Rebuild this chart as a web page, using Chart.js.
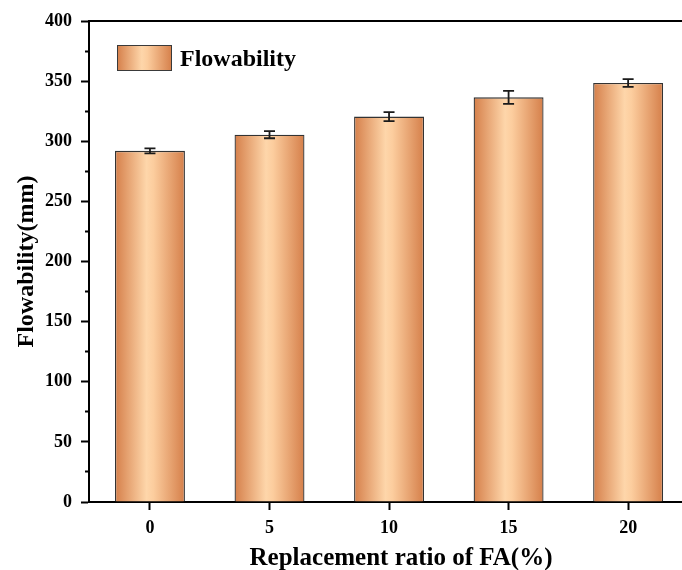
<!DOCTYPE html>
<html>
<head>
<meta charset="utf-8">
<script src="https://cdn.jsdelivr.net/npm/chart.js@4/dist/chart.umd.min.js"></script>
<style>
  html, body { margin: 0; padding: 0; background: #fff; overflow: hidden; }
  #wrap { position: absolute; left: 0; top: 0; width: 682px; height: 570px; overflow: hidden; }
  canvas { display: block; }
</style>
</head>
<body>
<div id="wrap"><canvas id="c" width="730" height="570"></canvas></div>
<script>
// Replacement ratio of fly ash (%) and measured flowability (mm)
const ratios = [0, 5, 10, 15, 20];
const flowability = [292, 305.5, 320.5, 336.5, 348.5];
const flowabilityErr = [2, 3, 3.7, 5.4, 3.2];
const yTicks = [0, 50, 100, 150, 200, 250, 300, 350, 400];
const seriesLabel = 'Flowability';

const FONT = '"Liberation Serif", "Times New Roman", serif';
const BAR_PCT = 0.585;

// horizontal copper gradient across a span of pixels
function copperGradient(ctx, x0, x1) {
  const g = ctx.createLinearGradient(x0, 0, x1, 0);
  g.addColorStop(0, '#D57F4A');
  g.addColorStop(0.45, '#FED6AA');
  g.addColorStop(0.55, '#FCCD9E');
  g.addColorStop(1, '#D57F4A');
  return g;
}

function barFill(c) {
  const chart = c.chart;
  const xs = chart.scales.x;
  if (c.type !== 'data' || !xs || !c.raw) return '#EFAE7E';
  const cx = xs.getPixelForValue(c.raw.x);
  const half = (xs.getPixelForValue(5) - xs.getPixelForValue(0)) * BAR_PCT / 2;
  if (!isFinite(cx) || !isFinite(half) || half <= 0) return '#EFAE7E';
  return copperGradient(chart.ctx, cx - half, cx + half);
}

// error bars drawn from the y scale
const errorBars = {
  id: 'errorBars',
  afterDatasetsDraw(chart) {
    const ctx = chart.ctx;
    const ys = chart.scales.y;
    const meta = chart.getDatasetMeta(0);
    ctx.save();
    ctx.strokeStyle = '#1a1a1a';
    ctx.lineWidth = 1.8;
    meta.data.forEach((el, i) => {
      const v = flowability[i], e = flowabilityErr[i];
      const yt = ys.getPixelForValue(v + e);
      const yb = ys.getPixelForValue(v - e);
      const cap = 5.5;
      ctx.beginPath();
      ctx.moveTo(el.x, yt); ctx.lineTo(el.x, yb);
      ctx.moveTo(el.x - cap, yt); ctx.lineTo(el.x + cap, yt);
      ctx.moveTo(el.x - cap, yb); ctx.lineTo(el.x + cap, yb);
      ctx.stroke();
    });
    ctx.restore();
  }
};

// legend placed inside the plot area
const innerLegend = {
  id: 'innerLegend',
  afterDraw(chart) {
    const ctx = chart.ctx;
    const x = 117, y = 45, w = 55, h = 26;
    ctx.save();
    ctx.fillStyle = copperGradient(ctx, x, x + w);
    ctx.fillRect(x, y, w, h);
    ctx.strokeStyle = '#3a3a3a';
    ctx.lineWidth = 1;
    ctx.strokeRect(x + 0.5, y + 0.5, w - 1, h - 1);
    ctx.fillStyle = '#000';
    ctx.font = 'bold 24px ' + FONT;
    ctx.textBaseline = 'alphabetic';
    ctx.textAlign = 'left';
    ctx.fillText(chart.data.datasets[0].label, 180, 66);
    ctx.restore();
  }
};

new Chart(document.getElementById('c'), {
  type: 'bar',
  data: {
    datasets: [{
      label: seriesLabel,
      data: ratios.map((r, i) => ({ x: r, y: flowability[i] })),
      backgroundColor: barFill,
      borderColor: '#333333',
      borderWidth: 1.3,
      barPercentage: BAR_PCT,
      categoryPercentage: 1
    }]
  },
  options: {
    responsive: false,
    animation: false,
    devicePixelRatio: 1,
    layout: { padding: { top: 21, right: 17, left: 0, bottom: 0 } },
    plugins: { legend: { display: false }, tooltip: { enabled: false } },
    scales: {
      x: {
        type: 'linear',
        position: 'bottom',
        offset: false,
        min: -2.55,
        max: 23.55,
        afterFit(s) { s.height = 68; },
        ticks: {
          stepSize: 5,
          includeBounds: false,
          color: '#000',
          padding: 8,
          font: { family: FONT, size: 18, weight: 'bold' }
        },
        grid: { drawOnChartArea: false, offset: false, tickLength: 8, tickWidth: 2, color: '#000' },
        border: { display: true, color: '#000', width: 2 },
        title: {
          display: true,
          text: 'Replacement ratio of FA(%)',
          color: '#000',
          font: { family: FONT, size: 25, weight: 'bold', lineHeight: 0.92 },
          padding: { top: 0, bottom: 0 }
        }
      },
      xTop: {
        type: 'linear',
        position: 'top',
        offset: false,
        min: -2.55,
        max: 23.55,
        afterFit(s) { s.height = 0; },
        ticks: { display: false },
        grid: { display: false, drawTicks: false },
        border: { display: true, color: '#000', width: 2 }
      },
      y: {
        min: 0,
        max: 400,
        afterFit(s) { s.width = 89; },
        afterBuildTicks(s) {
          // major ticks every 50 with a minor tick between each pair
          const t = [];
          yTicks.forEach((v, i) => {
            t.push({ value: v });
            if (i < yTicks.length - 1) t.push({ value: (v + yTicks[i + 1]) / 2 });
          });
          s.ticks = t;
        },
        ticks: {
          color: '#000',
          padding: 9,
          font: { family: FONT, size: 18, weight: 'bold' },
          callback: (v) => (yTicks.includes(v) ? String(v) : '')
        },
        grid: {
          drawOnChartArea: false,
          tickLength: 8,
          tickWidth: 2,
          color: '#000',
          tickBorderDash: (c) => (c.tick && !yTicks.includes(c.tick.value) ? [0, 4, 4, 0] : [])
        },
        border: { display: true, color: '#000', width: 2 },
        title: {
          display: true,
          text: 'Flowability(mm)',
          color: '#000',
          font: { family: FONT, size: 24, weight: 'bold' },
          padding: { top: 12, bottom: 0 }
        }
      }
    }
  },
  plugins: [errorBars, innerLegend]
});
</script>
</body>
</html>
